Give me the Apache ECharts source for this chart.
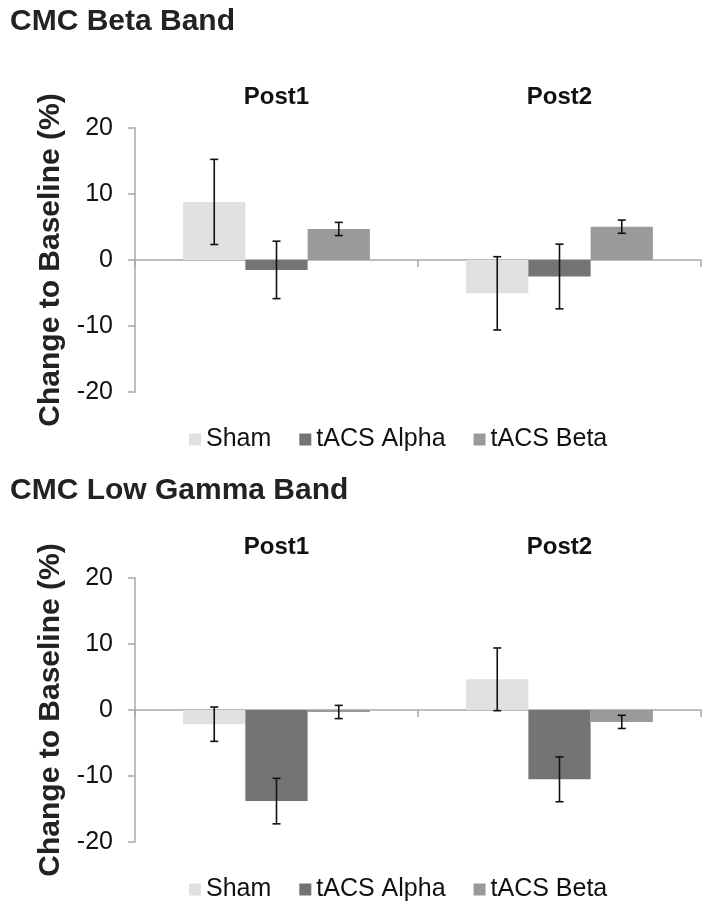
<!DOCTYPE html>
<html>
<head>
<meta charset="utf-8">
<script src="https://cdn.jsdelivr.net/npm/echarts@6/dist/echarts.min.js"></script>
<style>
  html, body { margin: 0; padding: 0; background: #fff; }
  #main { width: 708px; height: 904px; }
</style>
</head>
<body>
<div id="main"></div>
<script>
const categories = ['Post1', 'Post2']
const groups = ['Sham', 'tACS Alpha', 'tACS Beta']
const colors = ['#e0e0e0', '#747474', '#9a9a9a']

// CMC Beta Band: mean and error per group
const betaSham = [8.8, -5.05]
const betaShamErr = [6.45, 5.55]
const betaAlpha = [-1.5, -2.5]
const betaAlphaErr = [4.35, 4.9]
const betaBeta = [4.7, 5.05]
const betaBetaErr = [1.0, 1.0]

// CMC Low Gamma Band
const gammaSham = [-2.15, 4.65]
const gammaShamErr = [2.6, 4.75]
const gammaAlpha = [-13.8, -10.5]
const gammaAlphaErr = [3.45, 3.4]
const gammaBeta = [-0.3, -1.8]
const gammaBetaErr = [1.0, 1.0]

const yTicks = [-20, -10, 0, 10, 20]

const panels = [
  { title: 'CMC Beta Band', means: [betaSham, betaAlpha, betaBeta], errs: [betaShamErr, betaAlphaErr, betaBetaErr] },
  { title: 'CMC Low Gamma Band', means: [gammaSham, gammaAlpha, gammaBeta], errs: [gammaShamErr, gammaAlphaErr, gammaBetaErr] }
]

const FONT = 'Liberation Sans, Arial, sans-serif'
const catGap = 0.34
const gridTops = [128, 578]
const gridH = 264

const chart = echarts.init(document.getElementById('main'))

const grid = [], xAxis = [], yAxis = [], series = [], title = [], legend = []

panels.forEach((p, k) => {
  grid.push({ left: 135, right: 7, top: gridTops[k], height: gridH })
  title.push({
    text: p.title, left: 5, top: k === 0 ? 2 : 471,
    textStyle: { fontFamily: FONT, fontSize: 30, fontWeight: 'bold', color: '#222' }
  })
  legend.push({
    data: groups, top: k === 0 ? 422 : 872, left: 184,
    itemWidth: 12, itemHeight: 12, itemGap: 28, icon: 'rect',
    textStyle: { fontFamily: FONT, fontSize: 25, color: '#111' }
  })
  // bottom axis: zero line with boundary ticks
  xAxis.push({
    type: 'category', gridIndex: k, data: categories,
    axisLine: { onZero: true, lineStyle: { color: '#a8a8a8', width: 1.5 } },
    axisTick: { show: true, length: 7, lineStyle: { color: '#a8a8a8', width: 1.5 } },
    axisLabel: { show: false }
  })
  // top axis: category labels only
  xAxis.push({
    type: 'category', gridIndex: k, data: categories, position: 'top',
    axisLine: { show: false }, axisTick: { show: false },
    axisLabel: { margin: 19, fontFamily: FONT, fontSize: 24, fontWeight: 'bold', color: '#111' }
  })
  yAxis.push({
    type: 'value', gridIndex: k, min: yTicks[0], max: yTicks[yTicks.length - 1], interval: 10,
    name: 'Change to Baseline (%)', nameLocation: 'middle', nameGap: 68,
    nameTextStyle: { fontFamily: FONT, fontSize: 30, fontWeight: 'bold', color: '#222' },
    axisLine: { show: true, lineStyle: { color: '#a8a8a8', width: 1.5 } },
    axisTick: { show: true, length: 7, lineStyle: { color: '#a8a8a8', width: 1.5 } },
    splitLine: { show: false },
    axisLabel: { margin: 22, fontFamily: FONT, fontSize: 25, color: '#111' }
  })

  groups.forEach((g, j) => {
    series.push({
      name: g, type: 'bar', xAxisIndex: k * 2, yAxisIndex: k,
      data: p.means[j], barGap: '0%', barCategoryGap: (catGap * 100) + '%',
      itemStyle: { color: colors[j] }, silent: true
    })
  })

  groups.forEach((g, j) => {
    series.push({
      name: g, type: 'custom', xAxisIndex: k * 2, yAxisIndex: k, z: 10,
      data: p.means[j].map((m, i) => [i, m - p.errs[j][i], m + p.errs[j][i]]),
      encode: { x: 0, y: [1, 2] },
      renderItem: (params, api) => {
        const band = api.size([1, 0])[0]
        const bw = band * (1 - catGap) / groups.length
        const lo = api.coord([api.value(0), api.value(1)])
        const hi = api.coord([api.value(0), api.value(2)])
        const x = lo[0] + (j - 1) * bw
        const cap = 4
        const style = { stroke: '#111', lineWidth: 1.6 }
        return {
          type: 'group',
          children: [
            { type: 'line', shape: { x1: x, y1: hi[1], x2: x, y2: lo[1] }, style },
            { type: 'line', shape: { x1: x - cap, y1: hi[1], x2: x + cap, y2: hi[1] }, style },
            { type: 'line', shape: { x1: x - cap, y1: lo[1], x2: x + cap, y2: lo[1] }, style }
          ]
        }
      }
    })
  })
})

chart.setOption({
  animation: false,
  backgroundColor: '#fff',
  title, legend, grid, xAxis, yAxis, series
})
</script>
</body>
</html>
